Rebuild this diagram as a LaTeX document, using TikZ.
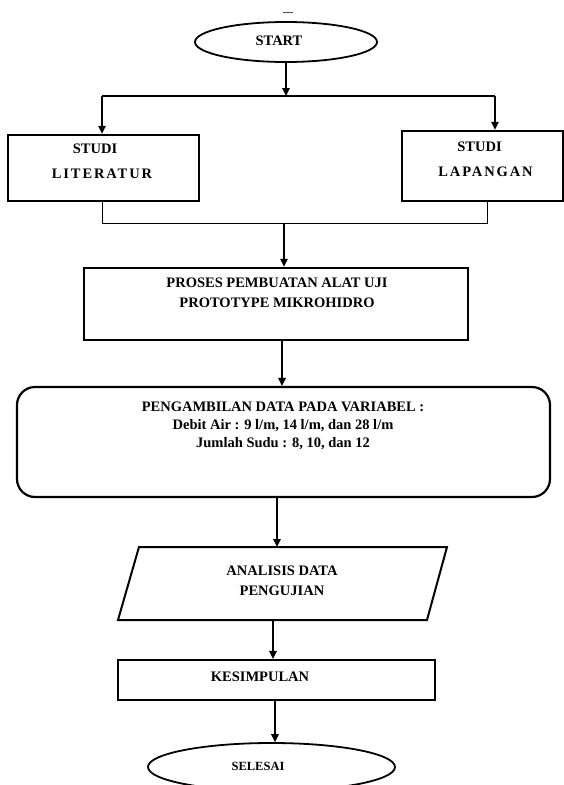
\documentclass[tikz,border=0pt]{standalone}
\usepackage{fontspec}
\setmainfont{Liberation Serif}
\newfontfamily\spacedfont[LetterSpace=13]{Liberation Serif}
\usetikzlibrary{shapes.geometric,arrows.meta}
\begin{document}
\begin{tikzpicture}[x=1pt,y=-1pt,
  box/.style={draw,rectangle,inner sep=0pt,line width=2.5pt},
  oval/.style={draw,ellipse,inner sep=0pt,line width=1.8pt},
  lbl/.style={inner sep=0pt,font=\bfseries\fontsize{14.5}{18}\selectfont,align=center},
  arr/.style={line width=1.4pt,-{Triangle[length=8pt,width=7.5pt]}},
  thinline/.style={line width=1pt}]
\useasboundingbox (0,0) rectangle (564,785);
% stray mark at the top
\draw[line width=0.6pt,black!70] (283,12.5) -- (293,12.5);
% START
\node[oval,minimum width=182pt,minimum height=40pt] (start) at (286,42) {};
\node[lbl] (starttxt) at (279,41) {START};
\coordinate (split) at (286,96);
\coordinate (tl) at (102,96);
\coordinate (tr) at (495,96);
\draw[arr] (start.south) -- (split);
\draw[line width=2.5pt] (tl) -- (tr);
% study boxes
\node[box,minimum width=191pt,minimum height=66pt] (lit) at (103.5,168) {};
\node[box,minimum width=161pt,minimum height=70pt] (lap) at (482.5,166) {};
\node[lbl] (littxt1) at (95,149) {STUDI};
\node[lbl] (littxt2) at (102,174) {\spacedfont\bfseries LITERATUR};
\node[lbl] (laptxt1) at (479.5,147) {STUDI};
\node[lbl] (laptxt2) at (485.5,172) {\spacedfont\bfseries LAPANGAN};
\draw[arr] (tl) -- (tl |- lit.north);
\draw[arr] (tr) -- (tr |- lap.north);
% join
\coordinate (jl) at (102,223);
\coordinate (jr) at (487,223);
\coordinate (jm) at (284,223);
\draw[thinline] (jl |- lit.south) -- (jl) -- (jr) -- (jr |- lap.south);
% proses
\node[box,minimum width=384pt,minimum height=72pt] (proses) at (276,304) {};
\node[lbl,font=\bfseries\fontsize{14.5}{20}\selectfont] (prosestxt) at (277,293) {PROSES PEMBUATAN ALAT UJI\\PROTOTYPE MIKROHIDRO};
\draw[arr] (jm) -- (jm |- proses.north);
% data
\node[draw,rectangle,rounded corners=18pt,inner sep=0pt,line width=2.2pt,minimum width=533pt,minimum height=110pt] (data) at (283.5,442) {};
\node[lbl] (datatxt) at (283,426) {PENGAMBILAN DATA PADA VARIABEL :\\Debit Air : 9 l/m, 14 l/m, dan 28 l/m\\Jumlah Sudu : 8, 10, dan 12};
\draw[arr] ([xshift=6pt]proses.south) -- ([xshift=6pt]proses.south |- data.north);
% analisis (parallelogram)
\coordinate (pbl) at (118,620);
\coordinate (pbr) at (427,620);
\coordinate (ptr) at (447,547);
\coordinate (ptl) at (139,547);
\draw[line width=2pt,line join=miter] (pbl) -- (pbr) -- (ptr) -- (ptl) -- cycle;
\coordinate (antop) at (277,547);
\coordinate (anbot) at (273,620);
\node[lbl,font=\bfseries\fontsize{14.5}{20}\selectfont] (analtxt) at (282,581) {ANALISIS DATA\\PENGUJIAN};
\draw[arr] ([xshift=-6.5pt]data.south) -- (antop);
% kesimpulan
\node[box,line width=2.2pt,minimum width=317pt,minimum height=40pt] (kes) at (276.5,680) {};
\node[lbl] (kestxt) at (260,677) {KESIMPULAN};
\draw[arr] (anbot) -- (anbot |- kes.north);
% selesai
\node[oval,minimum width=247pt,minimum height=48pt] (sel) at (271.5,767) {};
\node[lbl,font=\bfseries\fontsize{12.5}{15}\selectfont] (seltxt) at (258,766) {SELESAI};
\draw[arr] ([xshift=-1.5pt]kes.south) -- ([xshift=-1.5pt]kes.south |- sel.north);
\end{tikzpicture}
\end{document}
